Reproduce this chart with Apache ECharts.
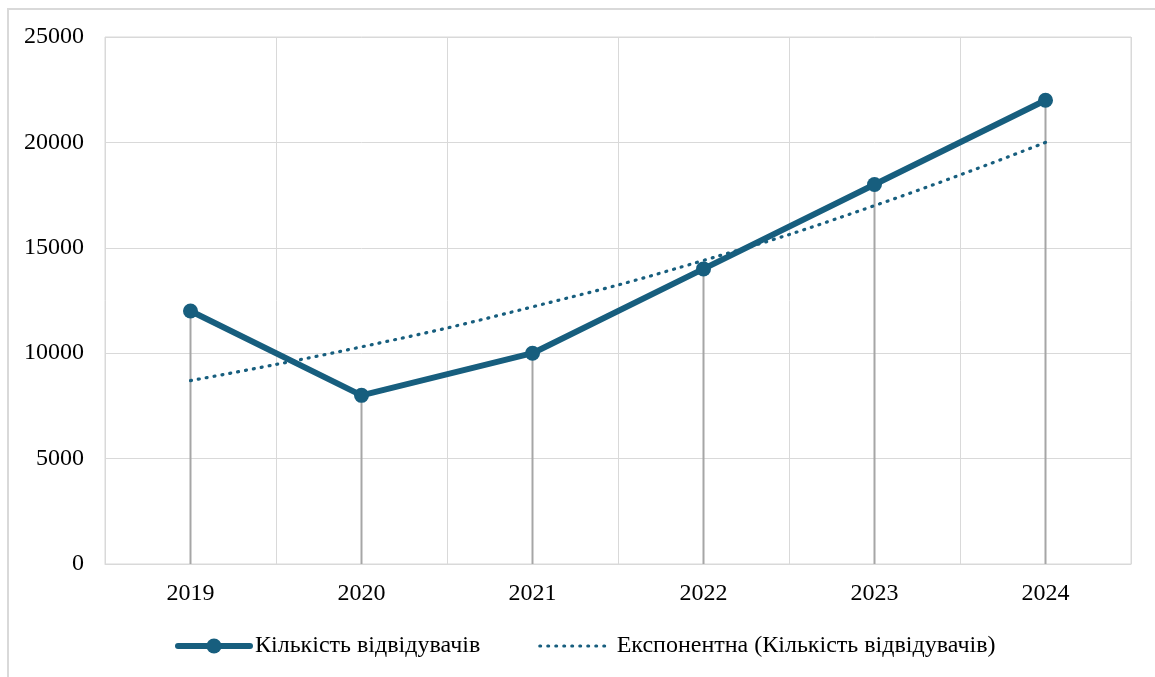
<!DOCTYPE html>
<html style="height: 100%">
<head>
    <meta charset="UTF-8">
    <script type="text/javascript" src="https://cdn.jsdelivr.net/npm/echarts@6/dist/echarts.min.js"></script>
    <style type="text/css">
        body {margin:0; padding:0; overflow:hidden; height:100%; background:#fff}
        #frame {position:absolute; left:7px; top:8px; width:1200px; height:720px; border:2px solid #d9d9d9; box-sizing:border-box}
    </style>
</head>
<body>
    <div id="frame"></div>
    <div id="container" style="position:absolute;left:0;top:0;width:1155px;height:677px"></div>
<script>
    var years = ['2019', '2020', '2021', '2022', '2023', '2024'];
    var visitors = [12000, 8000, 10000, 14000, 18000, 22000];
    // трендова лінія, значення
    var trend = [8700, 10300, 12200, 14400, 17000, 20000];
    var yTicks = {min: 0, max: 25000, interval: 5000};

    var mainColor = '#175e7e';
    var font = 'Liberation Serif';
    var myChart = echarts.init(document.getElementById('container'));

    var option = {
        animation: false,
        grid: {
            left: 105,
            right: 24,
            top: 37,
            bottom: 113,
            show: true,
            borderColor: '#d9d9d9',
            borderWidth: 1
        },
        legend: {
            left: 170,
            top: 629,
            itemWidth: 72,
            itemHeight: 19,
            itemGap: 58,
            data: [
                {name: 'Кількість відвідувачів', lineStyle: {width: 6, cap: 'round'}},
                {name: 'Експонентна (Кількість відвідувачів)', itemStyle: {color: 'rgba(0,0,0,0)', borderWidth: 0},
                    lineStyle: {width: 3, type: [1, 7], cap: 'round'}}
            ],
            textStyle: {fontFamily: font, fontSize: 24, color: '#000'}
        },
        xAxis: {
            type: 'category',
            data: years,
            boundaryGap: true,
            axisLine: {lineStyle: {color: '#d9d9d9', width: 1}},
            axisTick: {show: false},
            axisLabel: {fontFamily: font, fontSize: 24, color: '#000', margin: 18},
            splitLine: {show: true, lineStyle: {color: '#d9d9d9', width: 1}}
        },
        yAxis: {
            type: 'value',
            min: yTicks.min,
            max: yTicks.max,
            interval: yTicks.interval,
            axisLine: {show: false},
            axisTick: {show: false},
            axisLabel: {fontFamily: font, fontSize: 24, color: '#000', margin: 21,
                padding: [6, 0, 0, 0],
                formatter: function (v) { return String(v); }},
            splitLine: {lineStyle: {color: '#d9d9d9', width: 1}}
        },
        series: [
            {
                name: 'drop',
                type: 'bar',
                data: visitors,
                barWidth: 2,
                itemStyle: {color: '#a6a6a6'},
                silent: true,
                z: 1
            },
            {
                name: 'Експонентна (Кількість відвідувачів)',
                type: 'line',
                data: trend,
                smooth: true,
                showSymbol: false,
                symbol: 'none',
                lineStyle: {color: mainColor, width: 3.2, type: [1, 7], cap: 'round'},
                itemStyle: {color: mainColor},
                z: 2
            },
            {
                name: 'Кількість відвідувачів',
                type: 'line',
                data: visitors,
                symbol: 'circle',
                symbolSize: 15,
                lineStyle: {color: mainColor, width: 6},
                itemStyle: {color: mainColor},
                z: 3
            }
        ]
    };
    myChart.setOption(option);
</script>
</body>
</html>
